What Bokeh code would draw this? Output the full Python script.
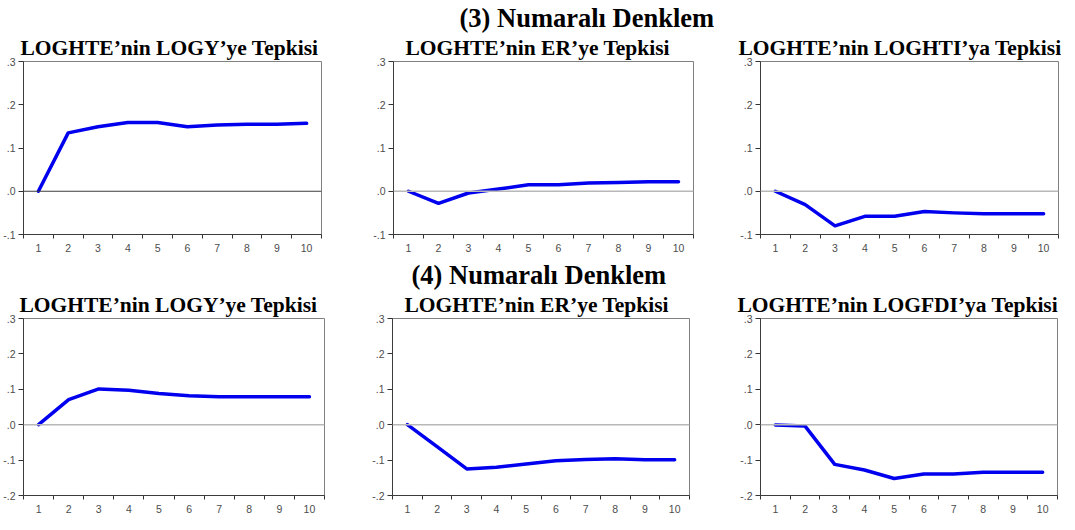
from bokeh.plotting import figure
from bokeh.layouts import column, row
from bokeh.models import FixedTicker, CustomJSTickFormatter, Span, Title, Range1d
from bokeh.embed import file_html
from bokeh.resources import INLINE

periods = [1, 2, 3, 4, 5, 6, 7, 8, 9, 10]

eq3_logy = [0.000, 0.135, 0.149, 0.159, 0.159, 0.149, 0.153, 0.155, 0.155, 0.157]
eq3_er = [0.000, -0.028, -0.004, 0.005, 0.015, 0.015, 0.019, 0.020, 0.022, 0.022]
eq3_loghti = [0.000, -0.031, -0.080, -0.058, -0.058, -0.047, -0.050, -0.052, -0.052, -0.052]
eq4_logy = [0.000, 0.071, 0.101, 0.097, 0.088, 0.082, 0.079, 0.079, 0.079, 0.079]
eq4_er = [0.000, -0.062, -0.125, -0.120, -0.111, -0.102, -0.098, -0.096, -0.099, -0.099]
eq4_logfdi = [-0.001, -0.004, -0.112, -0.128, -0.152, -0.139, -0.139, -0.134, -0.134, -0.134]

y_ticks_top = [-0.1, 0.0, 0.1, 0.2, 0.3]
y_ticks_bottom = [-0.2, -0.1, 0.0, 0.1, 0.2, 0.3]

titles_top = ["LOGHTE\u2019nin LOGY\u2019ye Tepkisi", "LOGHTE\u2019nin ER\u2019ye Tepkisi", "LOGHTE\u2019nin LOGHTI\u2019ya Tepkisi"]
titles_bottom = ["LOGHTE\u2019nin LOGY\u2019ye Tepkisi", "LOGHTE\u2019nin ER\u2019ye Tepkisi", "LOGHTE\u2019nin LOGFDI\u2019ya Tepkisi"]
section_top = "(3) Numaral\u0131 Denklem"
section_bottom = "(4) Numaral\u0131 Denklem"

SERIF = "Liberation Serif"
SANS = "Liberation Sans"


def panel(title, title_offset, yvals, yticks, zero_color, zero_width, fw, fh, bl, br, bt, bb,
          section=None, sec_offset=0):
    p = figure(frame_width=fw, frame_height=fh,
               min_border_left=bl, min_border_right=br, min_border_top=bt, min_border_bottom=bb,
               x_range=Range1d(0.5, 10.5), y_range=Range1d(yticks[0], yticks[-1]),
               output_backend="svg", toolbar_location=None)
    p.xgrid.visible = False
    p.ygrid.visible = False
    p.outline_line_color = "#808080"
    p.outline_line_width = 1
    p.background_fill_color = "white"
    p.border_fill_color = "white"

    p.add_layout(Title(text=title, align="left", offset=title_offset, text_font=SERIF,
                       text_font_size="21.5px", text_font_style="bold", text_color="black",
                       standoff=3), "above")
    if section:
        p.add_layout(Title(text=section, align="left", offset=sec_offset, text_font=SERIF,
                           text_font_size="26.5px", text_font_style="bold", text_color="black",
                           standoff=0), "above")

    minor = [x - 0.5 for x in periods] + [10.5]
    xa = p.xaxis[0]
    xa.ticker = FixedTicker(ticks=periods, minor_ticks=minor)
    xa.major_tick_line_color = None
    xa.major_tick_out = 4
    xa.major_tick_in = 0
    xa.minor_tick_line_color = "#333333"
    xa.minor_tick_out = 4
    xa.minor_tick_in = 0
    xa.major_label_standoff = 5
    xa.major_label_text_font = SANS
    xa.major_label_text_font_size = "10.5px"
    xa.major_label_text_color = "#4d4d4d"
    xa.axis_line_color = "#3c3c3c"

    ya = p.yaxis[0]
    ya.ticker = FixedTicker(ticks=yticks, minor_ticks=[])
    ya.formatter = CustomJSTickFormatter(code="var s = tick.toFixed(1); return s.replace('0.', '.');")
    ya.major_tick_line_color = "#333333"
    ya.major_tick_out = 5
    ya.major_tick_in = 0
    ya.minor_tick_line_color = None
    ya.major_label_standoff = 3
    ya.major_label_text_font = SANS
    ya.major_label_text_font_size = "10.5px"
    ya.major_label_text_color = "#4d4d4d"
    ya.axis_line_color = "#3c3c3c"

    p.add_layout(Span(location=0, dimension="width", line_color=zero_color, line_width=zero_width))
    p.line(periods, yvals, line_color="#0000ee", line_width=3.5, line_join="round", line_cap="round")
    return p


TOP_BT, TOP_FH, TOP_BB = 57, 173, 22
BOT_BT, BOT_FH, BOT_BB = 62, 177, 22

f1 = panel(titles_top[0], -3, eq3_logy, y_ticks_top, "#3c3c3c", 1.2, 298, TOP_FH, 20, 36, TOP_BT, TOP_BB)
f2 = panel(titles_top[1], 12, eq3_er, y_ticks_top, "#b8b8b8", 1.5, 300, TOP_FH, 36, 30, TOP_BT, TOP_BB,
           section_top, 66)
f3 = panel(titles_top[2], -22, eq3_loghti, y_ticks_top, "#b8b8b8", 1.5, 298, TOP_FH, 37, 3, TOP_BT, TOP_BB)

f4 = panel(titles_bottom[0], -4, eq4_logy, y_ticks_bottom, "#b8b8b8", 1.5, 301, BOT_FH, 21, 32, BOT_BT, BOT_BB)
f5 = panel(titles_bottom[1], 12, eq4_er, y_ticks_bottom, "#b8b8b8", 1.5, 297, BOT_FH, 36, 34, BOT_BT, BOT_BB,
           section_bottom, 19)
f6 = panel(titles_bottom[2], -23, eq4_logfdi, y_ticks_bottom, "#b8b8b8", 1.5, 297, BOT_FH, 37, 3, BOT_BT, BOT_BB)

layout = column(row(f1, f2, f3), row(f4, f5, f6))

open("out.html", "w").write(file_html(layout, INLINE))
